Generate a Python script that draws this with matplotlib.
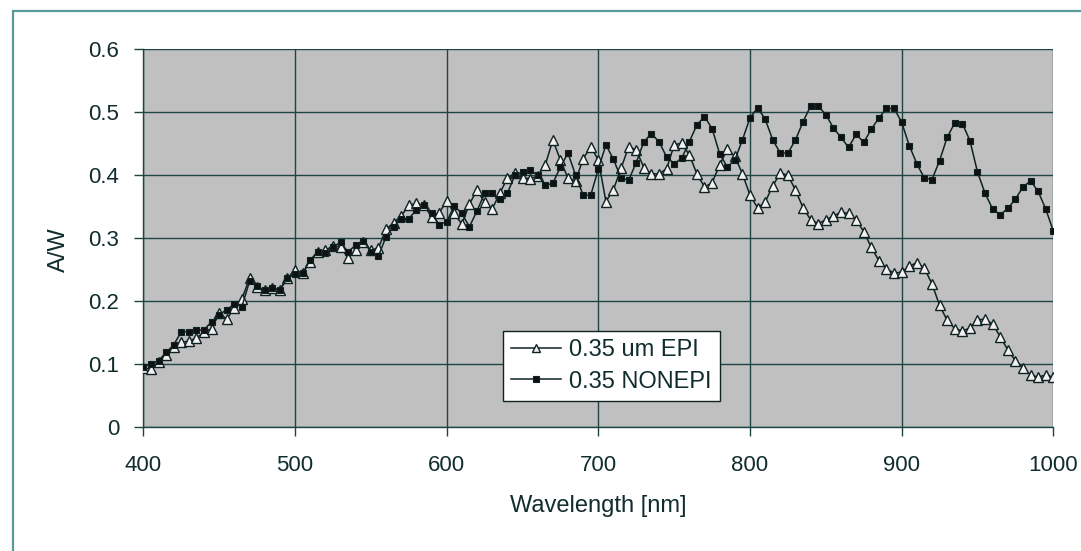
import matplotlib
matplotlib.use("Agg")
import matplotlib.pyplot as plt
from matplotlib.patches import Rectangle
import numpy as np

wavelength = list(range(400, 1001, 5))

epi = [0.093, 0.092, 0.103, 0.114, 0.126, 0.134, 0.136, 0.141, 0.150, 0.156,
       0.180, 0.171, 0.189, 0.203, 0.236, 0.222, 0.217, 0.220, 0.218, 0.236,
       0.249, 0.244, 0.262, 0.278, 0.281, 0.287, 0.286, 0.268, 0.281, 0.293,
       0.281, 0.284, 0.314, 0.324, 0.335, 0.352, 0.355, 0.352, 0.334, 0.340,
       0.359, 0.339, 0.322, 0.354, 0.376, 0.357, 0.346, 0.371, 0.395, 0.403,
       0.396, 0.394, 0.399, 0.416, 0.456, 0.424, 0.395, 0.391, 0.426, 0.445,
       0.424, 0.358, 0.377, 0.411, 0.445, 0.440, 0.412, 0.402, 0.402, 0.410,
       0.448, 0.451, 0.432, 0.402, 0.381, 0.388, 0.416, 0.441, 0.430, 0.402,
       0.368, 0.348, 0.357, 0.383, 0.403, 0.400, 0.376, 0.348, 0.329, 0.323,
       0.329, 0.335, 0.341, 0.339, 0.329, 0.310, 0.285, 0.264, 0.251, 0.244,
       0.246, 0.255, 0.261, 0.252, 0.227, 0.193, 0.169, 0.156, 0.152, 0.157,
       0.170, 0.171, 0.163, 0.143, 0.122, 0.105, 0.094, 0.082, 0.079, 0.082,
       0.079]

nonepi = [0.095, 0.100, 0.105, 0.118, 0.130, 0.151, 0.151, 0.153, 0.154, 0.167,
          0.178, 0.186, 0.195, 0.191, 0.231, 0.223, 0.217, 0.220, 0.218, 0.236,
          0.243, 0.244, 0.265, 0.278, 0.276, 0.286, 0.293, 0.278, 0.289, 0.296,
          0.278, 0.271, 0.302, 0.318, 0.330, 0.331, 0.344, 0.352, 0.339, 0.321,
          0.326, 0.351, 0.339, 0.318, 0.343, 0.371, 0.371, 0.362, 0.371, 0.400,
          0.405, 0.408, 0.400, 0.384, 0.387, 0.413, 0.435, 0.400, 0.368, 0.368,
          0.410, 0.448, 0.425, 0.395, 0.392, 0.420, 0.453, 0.466, 0.453, 0.429,
          0.418, 0.427, 0.453, 0.480, 0.493, 0.474, 0.434, 0.413, 0.424, 0.456,
          0.491, 0.507, 0.489, 0.456, 0.435, 0.435, 0.456, 0.485, 0.510, 0.510,
          0.496, 0.475, 0.460, 0.444, 0.465, 0.452, 0.473, 0.491, 0.506, 0.506,
          0.484, 0.447, 0.418, 0.395, 0.393, 0.423, 0.460, 0.483, 0.482, 0.455,
          0.405, 0.371, 0.346, 0.337, 0.347, 0.362, 0.381, 0.391, 0.374, 0.346,
          0.311]

series_labels = ["0.35 um EPI", "0.35 NONEPI"]
x_ticks = [400, 500, 600, 700, 800, 900, 1000]
y_ticks = [0, 0.1, 0.2, 0.3, 0.4, 0.5, 0.6]
y_tick_labels = ["0", "0.1", "0.2", "0.3", "0.4", "0.5", "0.6"]

plt.rcParams['font.family'] = ['Liberation Sans', 'DejaVu Sans']
text_color = '#102c2c'
grid_color = '#1e4444'
line_color = '#0e2222'

fig = plt.figure(figsize=(10.81, 5.51), dpi=100)
fig.patches.append(Rectangle((0.0118, -0.2), 1.2, 0.9806 + 0.2,
                             transform=fig.transFigure, fill=False,
                             edgecolor='#5c9a9a', linewidth=1.6))

ax = fig.add_axes([0.1326, 0.2256, 0.8418, 0.6849])
ax.set_facecolor('#c0c0c0')

ax.plot(wavelength, epi, color=line_color, linewidth=1.1, marker='^',
        markersize=6.5, markerfacecolor='#f4f0f0', markeredgecolor=line_color,
        markeredgewidth=1.0, label=series_labels[0], zorder=3)
ax.plot(wavelength, nonepi, color=line_color, linewidth=1.1, marker='s',
        markersize=5, markerfacecolor='#111111', markeredgecolor=line_color,
        markeredgewidth=0.8, label=series_labels[1], zorder=4)

ax.set_xlim(400, 1000)
ax.set_ylim(0, 0.6)
ax.set_xticks(x_ticks)
ax.set_yticks(y_ticks)
ax.set_yticklabels(y_tick_labels)
ax.grid(True, color=grid_color, linewidth=1.0, zorder=1)
ax.set_axisbelow(True)

for s in ['top', 'right']:
    ax.spines[s].set_visible(False)
for s in ['left', 'bottom']:
    ax.spines[s].set_color(grid_color)
    ax.spines[s].set_linewidth(1.0)

ax.tick_params(axis='both', direction='out', length=6.5, width=1.0,
               color=grid_color, labelsize=16, labelcolor=text_color)
ax.tick_params(axis='x', pad=14)
ax.tick_params(axis='y', pad=11)

ax.set_xlabel("Wavelength [nm]", fontsize=17, color=text_color)
ax.xaxis.set_label_coords(0.5, -0.180)
ax.set_ylabel("A/W", fontsize=17, color=text_color)
ax.yaxis.set_label_coords(-0.0805, 0.469)

leg = ax.legend(loc='upper left', bbox_to_anchor=(0.395, 0.254),
                borderaxespad=0, fancybox=False, shadow=False, framealpha=1,
                facecolor='white', edgecolor=line_color, fontsize=17,
                handlelength=2.1, handletextpad=0.35, borderpad=0.35,
                labelspacing=0.4, markerscale=0.8)
leg.get_frame().set_linewidth(1.0)
for t in leg.get_texts():
    t.set_color(text_color)

fig.savefig("out.png", dpi=100)
